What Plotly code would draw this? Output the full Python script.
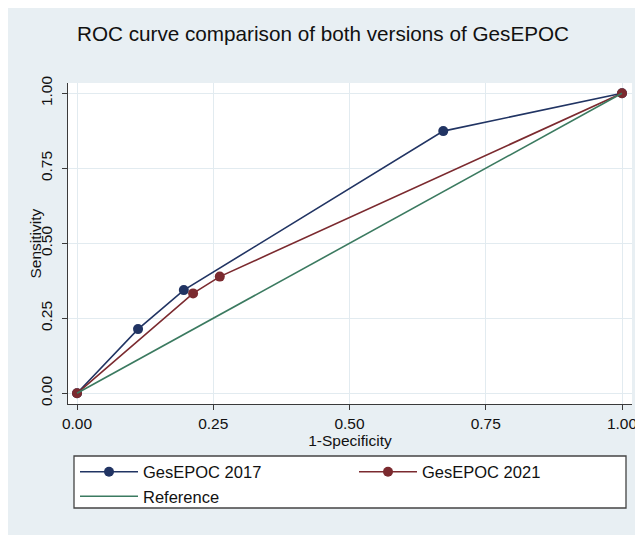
import plotly.graph_objects as go

# Data
x_2017 = [0.0, 0.112, 0.196, 0.672, 1.0]
y_2017 = [0.0, 0.214, 0.344, 0.874, 1.0]
x_2021 = [0.0, 0.213, 0.262, 1.0]
y_2021 = [0.0, 0.333, 0.389, 1.0]
x_ref = [0.0, 1.0]
y_ref = [0.0, 1.0]
tick_vals = [0, 0.25, 0.5, 0.75, 1.0]
tick_text = ["0.00", "0.25", "0.50", "0.75", "1.00"]

NAVY = "#213463"
MAROON = "#7b2a2f"
GREEN = "#3b7a60"
BG = "#e8eff3"
GRID = "#e2ebf0"
AX = "#3a3a3a"
FONT = "Liberation Sans, Arial, Helvetica, sans-serif"

OFF = 8  # page body margin seen in the screenshot
W, H = 643 - OFF, 535 - OFF
# plot area in figure pixels (reference image coords minus OFF)
L, T = 68 - OFF, 83 - OFF
RGT, BOT = 632 - OFF, 404 - OFF
R, B = W - RGT, H - BOT
PW, PH = RGT - L, BOT - T

def px(ximg):
    return (ximg - OFF - L) / PW

def py(yimg):
    return (BOT - (yimg - OFF)) / PH

fig = go.Figure()
fig.add_trace(go.Scatter(x=x_2017, y=y_2017, mode="lines+markers", name="GesEPOC 2017",
                         line=dict(color=NAVY, width=1.6), marker=dict(color=NAVY, size=10)))
fig.add_trace(go.Scatter(x=x_2021, y=y_2021, mode="lines+markers", name="GesEPOC 2021",
                         line=dict(color=MAROON, width=1.6), marker=dict(color=MAROON, size=10)))
fig.add_trace(go.Scatter(x=x_ref, y=y_ref, mode="lines", name="Reference",
                         line=dict(color=GREEN, width=1.6)))

axis_common = dict(
    tickvals=tick_vals, ticktext=tick_text, showgrid=True, gridcolor=GRID, gridwidth=1,
    zeroline=False, showline=True, linecolor=AX, linewidth=1.3,
    ticks="outside", ticklen=5, tickcolor=AX, tickwidth=1.3,
    tickfont=dict(family=FONT, size=15.5, color="#111111"),
    mirror=False, automargin=False,
)

# x: 0 at image px 77, 1 at 622 ; y: 0 at image px 393.3, 1 at 93.3
x0i, x1i = 77.0, 622.0
y0i, y1i = 393.3, 93.3
xr = [(68 - x0i) / (x1i - x0i), (632 - x0i) / (x1i - x0i)]
yr = [(y0i - 404) / (y0i - y1i), (y0i - 83) / (y0i - y1i)]

fig.update_layout(
    width=W, height=H,
    margin=dict(l=L, r=R, t=T, b=B, autoexpand=False),
    paper_bgcolor=BG, plot_bgcolor="white",
    font=dict(family=FONT, color="#111111"),
    title=dict(text="ROC curve comparison of both versions of GesEPOC",
               font=dict(family=FONT, size=20.7, color="#111111"),
               x=(323 - OFF) / W, xref="container", xanchor="center",
               y=1 - (34 - OFF) / H, yref="container", yanchor="middle"),
    xaxis=dict(range=xr,
               title=dict(text="1-Specificity", font=dict(family=FONT, size=15.5), standoff=4),
               **axis_common),
    yaxis=dict(range=yr, tickangle=-90, ticklabelstandoff=4, **axis_common),
    showlegend=True,
    legend=dict(orientation="h", x=px(75), y=py(454.5), xanchor="left", yanchor="top",
                bgcolor="rgba(0,0,0,0)", borderwidth=0,
                entrywidth=206, entrywidthmode="pixels",
                itemwidth=58,
                font=dict(family=FONT, size=16.5, color="#111111"),
                tracegroupgap=0),
    annotations=[
        dict(text="Sensitivity", xref="paper", yref="paper", x=px(35), y=0.5,
             xanchor="center", yanchor="middle", textangle=-90, showarrow=False,
             font=dict(family=FONT, size=15.5, color="#111111")),
    ],
    shapes=[
        dict(type="rect", xref="paper", yref="paper",
             x0=px(74), x1=px(626), y0=py(508), y1=py(456),
             line=dict(color="#444444", width=1.3), fillcolor="white", layer="below"),
    ],
)

fig.write_html("out.html")
